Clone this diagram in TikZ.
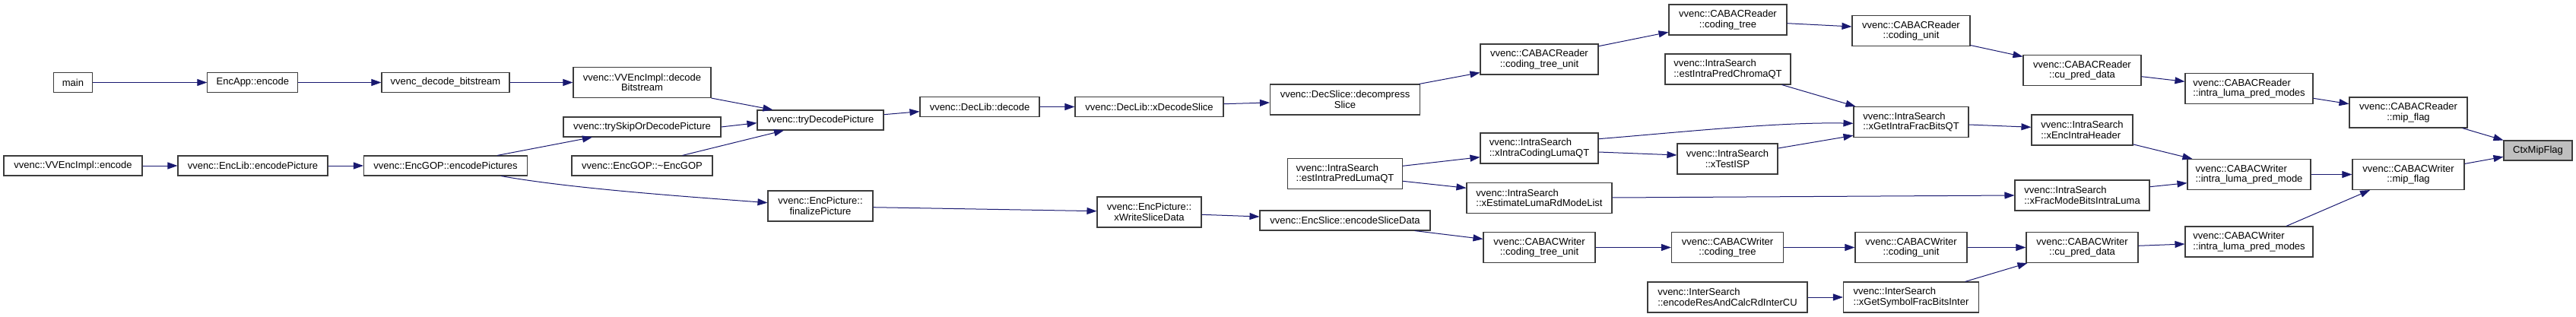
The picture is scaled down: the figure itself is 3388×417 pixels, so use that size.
\documentclass[tikz,border=0pt]{standalone}
\usepackage{fontspec}
\setmainfont{Liberation Sans}
\usetikzlibrary{arrows.meta,calc}
\definecolor{edgeblue}{RGB}{25,25,112}
\definecolor{boxline}{RGB}{60,60,60}
\begin{document}
\begin{tikzpicture}[x=1pt,y=-1pt,
  fn/.style={draw=boxline,line width=1.1pt,fill=white,rectangle,inner sep=1pt,
    font={\fontsize{13}{13.7}\selectfont},minimum height=26pt},
  fn2/.style={fn,minimum height=40pt,align=center},
  fnl/.style={fn,minimum height=40pt,align=left},
  cur/.style={fn,fill=black!25},
  call/.style={draw=edgeblue,line width=1pt,-{Triangle[length=13pt,width=9pt]},color=edgeblue}
]
\useasboundingbox (0,0) rectangle (3388,417);
% column 1
\node[fn,minimum width=51pt] (main) at (96,108.5) {main};
\node[fn,minimum width=182pt] (vvencimpl) at (96,218) {vvenc::VVEncImpl::encode};
% column 2
\node[fn,minimum width=119pt] (encapp) at (332.4,108.5) {EncApp::encode};
\node[fn,minimum width=197pt] (enclib) at (332.5,218) {vvenc::EncLib::encodePicture};
% column 3
\node[fn,minimum width=168pt] (decbs) at (586,108.5) {vvenc\_decode\_bitstream};
\node[fn,minimum width=215pt] (encgop) at (586,218) {vvenc::EncGOP::encodePictures};
% column 4
\node[fn2,minimum width=181pt] (decodebs) at (844.5,108.5) {vvenc::VVEncImpl::decode\\Bitstream};
\node[fn,minimum width=207pt] (tryskip) at (844.5,167) {vvenc::trySkipOrDecodePicture};
\node[fn,minimum width=185pt] (dtor) at (844.5,218) {vvenc::EncGOP::\textasciitilde EncGOP};
% column 5
\node[fn,minimum width=166pt] (trydec) at (1079,158) {vvenc::tryDecodePicture};
\node[fn2,minimum width=138pt] (finalize) at (1079,271) {vvenc::EncPicture::\\finalizePicture};
% column 6
\node[fn,minimum width=157pt] (declibdecode) at (1288.5,140.5) {vvenc::DecLib::decode};
% column 7
\node[fn,minimum width=195pt] (xdecslice) at (1511.5,140.5) {vvenc::DecLib::xDecodeSlice};
\node[fn2,minimum width=137pt] (xwrite) at (1511.5,279) {vvenc::EncPicture::\\xWriteSliceData};
% column 8
\node[fn2,minimum width=197pt] (decompress) at (1769,131) {vvenc::DecSlice::decompress\\Slice};
\node[fnl,minimum width=151pt] (estluma) at (1769,228.5) {vvenc::IntraSearch\\::estIntraPredLumaQT};
\node[fn,minimum width=224pt] (encslice) at (1769,290) {vvenc::EncSlice::encodeSliceData};
% column 9
\node[fn2,minimum width=155pt] (rctu) at (2024.5,78) {vvenc::CABACReader\\::coding\_tree\_unit};
\node[fnl,minimum width=155pt] (xintracoding) at (2024.5,195) {vvenc::IntraSearch\\::xIntraCodingLumaQT};
\node[fnl,minimum width=191pt] (xestimate) at (2024.5,260.5) {vvenc::IntraSearch\\::xEstimateLumaRdModeList};
\node[fn2,minimum width=147pt] (wctu) at (2024.5,325.5) {vvenc::CABACWriter\\::coding\_tree\_unit};
% column 10
\node[fn2,minimum width=155pt] (rct) at (2272.5,26) {vvenc::CABACReader\\::coding\_tree};
\node[fnl,minimum width=165pt] (chroma) at (2272.5,91) {vvenc::IntraSearch\\::estIntraPredChromaQT};
\node[fn2,minimum width=132pt] (xtestisp) at (2272,209) {vvenc::IntraSearch\\::xTestISP};
\node[fn2,minimum width=147pt] (wct) at (2272,325.5) {vvenc::CABACWriter\\::coding\_tree};
\node[fnl,minimum width=210pt] (interenc) at (2272,391) {vvenc::InterSearch\\::encodeResAndCalcRdInterCU};
% column 11
\node[fn2,minimum width=155pt] (rcu) at (2513.5,40.7) {vvenc::CABACReader\\::coding\_unit};
\node[fnl,minimum width=151pt] (xgetintra) at (2513.5,160.5) {vvenc::IntraSearch\\::xGetIntraFracBitsQT};
\node[fn2,minimum width=147pt] (wcu) at (2513.5,325.5) {vvenc::CABACWriter\\::coding\_unit};
\node[fnl,minimum width=178pt] (xgetsym) at (2513.5,391) {vvenc::InterSearch\\::xGetSymbolFracBitsInter};
% column 12
\node[fn2,minimum width=155pt] (rcupred) at (2738.5,92.5) {vvenc::CABACReader\\::cu\_pred\_data};
\node[fnl,minimum width=133pt] (xencintra) at (2738.5,171) {vvenc::IntraSearch\\::xEncIntraHeader};
\node[fnl,minimum width=177pt] (xfracmode) at (2738.5,257) {vvenc::IntraSearch\\::xFracModeBitsIntraLuma};
\node[fn2,minimum width=147pt] (wcupred) at (2738.5,325.5) {vvenc::CABACWriter\\::cu\_pred\_data};
% column 13
\node[fnl,minimum width=168pt] (rilpm) at (2958,116.5) {vvenc::CABACReader\\::intra\_luma\_pred\_modes};
\node[fnl,minimum width=162pt] (wilpm) at (2958,229.5) {vvenc::CABACWriter\\::intra\_luma\_pred\_mode};
\node[fnl,minimum width=168pt] (wilpms) at (2958,318) {vvenc::CABACWriter\\::intra\_luma\_pred\_modes};
% column 14
\node[fn2,minimum width=155pt] (rmip) at (3167.5,148) {vvenc::CABACReader\\::mip\_flag};
\node[fn2,minimum width=147pt] (wmip) at (3167.5,229.5) {vvenc::CABACWriter\\::mip\_flag};
% column 15
\node[cur,minimum width=90pt] (ctx) at (3338,198) {CtxMipFlag};

% edges
\draw[call] (main.east) -- (encapp.west);
\draw[call] (encapp.east) -- (decbs.west);
\draw[call] (decbs.east) -- (decodebs.west);
\draw[call] (vvencimpl.east) -- (enclib.west);
\draw[call] (enclib.east) -- (encgop.west);
\draw[call] (decodebs.south east) -- ($(trydec.north west)+(21,0)$);
\draw[call] (tryskip.east) -- ($(trydec.west)+(0,3.7)$);
\draw[call] ($(dtor.north)+(53,0)$) -- ($(trydec.south)+(-48,0)$);
\draw[call] ($(encgop.north east)+(-40,0)$) -- ($(tryskip.south west)+(38.5,0)$);
\draw[call] ($(encgop.south east)+(-35,0)$) .. controls +(90,16) and +(-120,-9) .. ($(finalize.west)+(0,-4.3)$);
\draw[call] ($(trydec.east)+(0,-7.3)$) -- ($(declibdecode.west)+(0,6.2)$);
\draw[call] (declibdecode.east) -- (xdecslice.west);
\draw[call] ($(xdecslice.east)+(0,-3.8)$) -- ($(decompress.west)+(0,4)$);
\draw[call] ($(decompress.north east)+(-1.5,0)$) -- ($(rctu.south west)+(0,-3)$);
\draw[call] ($(rctu.north east)+(0,3.3)$) -- ($(rct.south west)+(0,-4.3)$);
\draw[call] ($(rct.east)+(0,4.7)$) -- ($(rcu.west)+(0,-5.7)$);
\draw[call] ($(rcu.south east)+(0,-1.7)$) -- ($(rcupred.north west)+(0,2.5)$);
\draw[call] ($(rcupred.east)+(0,8.2)$) -- ($(rilpm.west)+(0,-9.2)$);
\draw[call] ($(rilpm.east)+(0,12.8)$) -- ($(rmip.west)+(0,-11.3)$);
\draw[call] ($(rmip.south east)+(-7,0)$) -- (ctx.north west);
\draw[call] ($(wmip.north east)+(0,6.5)$) -- ($(ctx.south west)+(0,-5.3)$);
\draw[call] (wilpm.east) -- (wmip.west);
\draw[call] ($(wilpms.north)+(49,0)$) -- ($(wmip.south west)+(23.6,0)$);
\draw[call] ($(wcupred.east)+(0,-2.2)$) -- ($(wilpms.west)+(0,3)$);
\draw[call] (wcu.east) -- (wcupred.west);
\draw[call] ($(xgetsym.north east)+(-18.5,0)$) -- ($(wcupred.south west)+(2,0)$);
\draw[call] ($(xencintra.south east)+(0,-1.7)$) -- ($(wilpm.north west)+(7,0)$);
\draw[call] ($(xfracmode.east)+(0,-11.3)$) -- ($(wilpm.west)+(0,11.2)$);
\draw[call] ($(xgetintra.east)+(0,3.5)$) -- ($(xencintra.west)+(0,-3.7)$);
\draw[call] ($(xestimate.east)+(0,-0.5)$) -- ($(xfracmode.west)$);
\draw[call] ($(estluma.east)+(0,-10.2)$) -- ($(xintracoding.west)+(0,11.7)$);
\draw[call] ($(estluma.east)+(0,9.8)$) -- ($(xestimate.west)+(0,-13.2)$);
\draw[call] ($(xintracoding.east)+(0,-12.3)$) .. controls +(100,-8) and +(-100,-2) .. ($(xgetintra.west)+(0,1.8)$);
\draw[call] ($(xintracoding.east)+(0,5)$) -- ($(xtestisp.west)+(0,-5)$);
\draw[call] ($(xtestisp.east)+(0,-14)$) -- ($(xgetintra.south west)+(0,-2.8)$);
\draw[call] ($(chroma.south east)+(-12,0)$) -- ($(xgetintra.north west)+(3,0)$);
\draw[call] ($(finalize.east)+(0,1.7)$) -- ($(xwrite.west)+(0,-1.3)$);
\draw[call] ($(xwrite.east)+(0,3.3)$) -- ($(encslice.west)+(0,-5)$);
\draw[call] ($(encslice.south east)+(-21,0)$) -- ($(wctu.north west)+(0,9.5)$);
\draw[call] (wctu.east) -- (wct.west);
\draw[call] (wct.east) -- (wcu.west);
\draw[call] (interenc.east) -- (xgetsym.west);
\end{tikzpicture}
\end{document}
